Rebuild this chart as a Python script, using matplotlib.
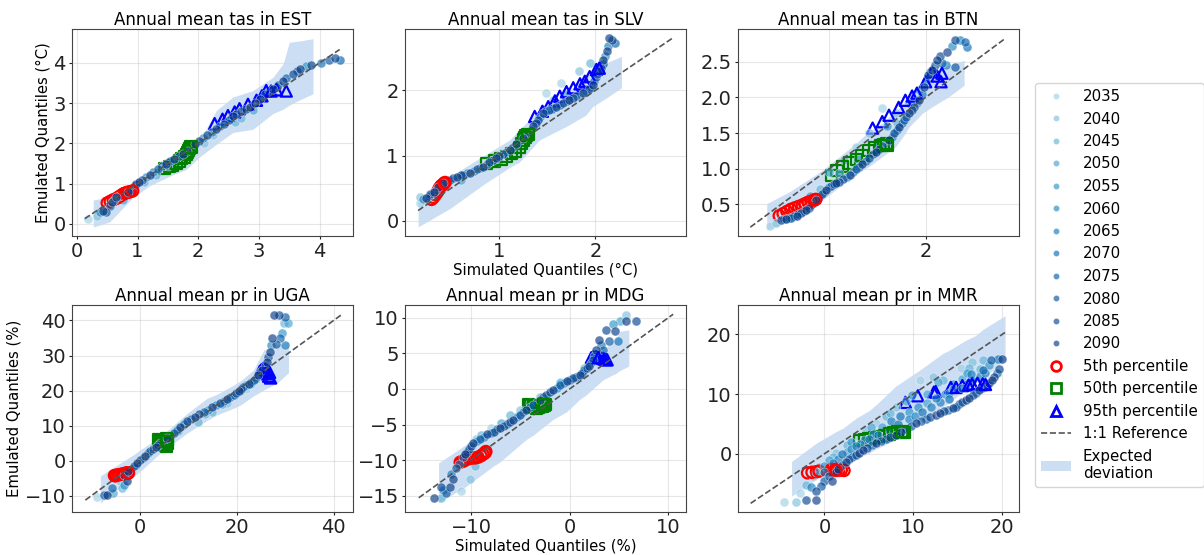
import matplotlib
matplotlib.use("Agg")
import matplotlib.pyplot as plt
from matplotlib.colors import LinearSegmentedColormap
from matplotlib.lines import Line2D
from matplotlib.patches import Patch

YEARS = [2035, 2040, 2045, 2050, 2055, 2060, 2065, 2070, 2075, 2080, 2085, 2090]

# ---------------- EST (tas) ----------------
est_x = [0.18, 0.33, 0.43, 0.48, 0.54, 0.58, 0.65, 0.76, 0.70, 0.84, 0.92, 0.98, 1.08, 1.20, 1.33,
         1.47, 1.60, 1.75, 1.88, 2.02, 2.15, 2.30, 2.42, 2.57, 2.70, 2.85, 3.01, 3.10, 3.23, 3.32,
         3.40, 3.56, 3.67, 3.78, 4.03, 4.16, 4.25, 4.33, 1.30, 2.10, 2.60, 2.90, 1.60,
         0.38, 0.62, 0.72, 0.80, 0.88, 0.95, 1.03, 1.14, 1.26, 1.40, 1.54, 1.68, 1.81, 1.95, 2.08,
         2.22, 2.36, 2.50, 2.63, 2.78, 2.93, 3.06, 3.17, 3.28, 3.45, 3.62, 3.86,
         1.10, 1.50, 1.90, 2.25, 2.70]
est_y = [0.12, 0.19, 0.32, 0.30, 0.44, 0.55, 0.67, 0.59, 0.70, 0.79, 0.90, 1.00, 1.10, 1.21, 1.36,
         1.50, 1.62, 1.74, 1.90, 2.07, 2.20, 2.36, 2.48, 2.69, 2.80, 2.90, 3.11, 3.22, 3.36, 3.45,
         3.56, 3.73, 3.85, 3.93, 3.99, 4.06, 4.12, 4.06, 1.22, 2.02, 2.52, 2.82, 1.53,
         0.30, 0.60, 0.72, 0.76, 0.85, 0.96, 1.05, 1.16, 1.28, 1.43, 1.56, 1.68, 1.82, 1.98, 2.14,
         2.28, 2.42, 2.58, 2.74, 2.86, 3.00, 3.16, 3.30, 3.40, 3.62, 3.80, 3.95,
         1.05, 1.44, 1.84, 2.20, 2.64]
est_yr = [0, 1, 11, 9, 8, 10, 11, 3, 7, 11, 9, 11, 10, 11, 9,
          11, 10, 11, 8, 11, 10, 11, 9, 11, 10, 11, 11, 9, 11, 8,
          11, 10, 11, 4, 7, 9, 10, 8, 2, 1, 2, 3, 1,
          5, 6, 7, 8, 9, 10, 11, 5, 6, 7, 8, 9, 10, 11, 5,
          6, 7, 8, 9, 10, 11, 5, 6, 7, 8, 9, 10,
          2, 3, 4, 1, 2]
est_p5_x = [0.50, 0.55, 0.60, 0.66, 0.70, 0.74, 0.77, 0.79, 0.82, 0.85, 0.88, 0.92]
est_p5_y = [0.52, 0.56, 0.60, 0.64, 0.68, 0.72, 0.75, 0.76, 0.78, 0.79, 0.80, 0.82]
est_p50_x = [1.45, 1.52, 1.58, 1.64, 1.69, 1.73, 1.77, 1.80, 1.82, 1.84, 1.86, 1.88]
est_p50_y = [1.37, 1.42, 1.46, 1.50, 1.56, 1.62, 1.66, 1.72, 1.78, 1.83, 1.88, 1.91]
est_p95_x = [2.27, 2.40, 2.49, 2.60, 2.68, 2.82, 2.96, 3.05, 3.12, 3.20, 3.29, 3.45]
est_p95_y = [2.49, 2.60, 2.69, 2.78, 2.86, 2.97, 3.07, 3.18, 3.31, 3.30, 3.33, 3.30]
est_band_x = [0.27, 0.29, 0.54, 0.92, 1.20, 1.58, 1.80, 2.02, 2.30, 2.57, 2.90, 3.23, 3.40, 3.50, 3.70, 3.89]
est_band_lo = [-0.07, -0.07, 0.05, 0.65, 0.95, 1.22, 1.35, 1.66, 1.98, 2.27, 2.35, 2.74, 2.85, 2.95, 3.10, 3.23]
est_band_hi = [0.60, 0.60, 0.67, 0.92, 1.25, 1.66, 1.79, 2.07, 2.82, 3.15, 3.31, 3.64, 3.98, 4.51, 4.55, 4.60]
est_ref = [0.13, 4.33]
est_lim = [(-0.08, 4.55), (-0.30, 4.84)]

# ---------------- SLV (tas) ----------------
slv_x = [0.18, 0.18, 0.24, 0.28, 0.32, 0.37, 0.42, 0.49, 0.56, 0.63, 0.70, 0.77, 0.83, 0.90, 0.97,
         1.04, 1.11, 1.18, 1.25, 1.30, 1.35, 1.40, 1.46, 1.52, 1.59, 1.66, 1.73, 1.80, 1.87, 1.93,
         1.97, 2.01, 2.04, 2.08, 2.08, 2.12, 2.14, 2.17, 2.20, 1.49, 1.56, 1.64, 1.83, 1.94, 1.70,
         1.00, 0.60, 1.20,
         0.21, 0.27, 0.35, 0.45, 0.52, 0.60, 0.67, 0.74, 0.80, 0.87, 0.94, 1.00, 1.07, 1.14, 1.21,
         1.28, 1.33, 1.38, 1.43, 1.49, 1.56, 1.63, 1.70, 1.77, 1.84, 1.90, 1.95, 1.99, 2.02, 2.06,
         2.10, 2.13]
slv_y = [0.28, 0.37, 0.35, 0.42, 0.45, 0.52, 0.58, 0.63, 0.68, 0.71, 0.74, 0.79, 0.83, 0.90, 0.96,
         1.02, 1.09, 1.18, 1.27, 1.36, 1.45, 1.55, 1.65, 1.70, 1.75, 1.80, 1.86, 1.91, 1.96, 2.02,
         2.09, 2.20, 2.29, 2.40, 2.47, 2.60, 2.80, 2.77, 2.73, 1.96, 1.86, 2.12, 2.29, 2.42, 1.95,
         0.92, 0.62, 1.10,
         0.33, 0.38, 0.48, 0.60, 0.66, 0.70, 0.73, 0.77, 0.81, 0.87, 0.93, 0.99, 1.05, 1.13, 1.22,
         1.31, 1.40, 1.50, 1.60, 1.68, 1.73, 1.78, 1.83, 1.89, 1.94, 1.99, 2.05, 2.14, 2.25, 2.35,
         2.52, 2.68]
slv_yr = [0, 1, 11, 9, 11, 10, 11, 9, 11, 10, 11, 9, 11, 10, 11,
          9, 11, 10, 11, 9, 11, 10, 11, 9, 11, 10, 11, 9, 11, 10,
          11, 9, 11, 10, 11, 11, 11, 10, 8, 0, 1, 0, 1, 2, 3,
          2, 3, 1,
          5, 6, 7, 8, 9, 10, 5, 6, 7, 8, 9, 10, 5, 6, 7,
          8, 9, 10, 5, 6, 7, 8, 9, 10, 5, 6, 7, 8, 9, 10,
          5, 6]
slv_p5_x = [0.30, 0.32, 0.34, 0.36, 0.37, 0.38, 0.39, 0.40, 0.41, 0.42, 0.43, 0.44]
slv_p5_y = [0.33, 0.36, 0.40, 0.44, 0.47, 0.50, 0.52, 0.54, 0.55, 0.56, 0.58, 0.59]
slv_p50_x = [0.87, 0.95, 1.02, 1.08, 1.13, 1.17, 1.21, 1.23, 1.25, 1.27, 1.28, 1.30]
slv_p50_y = [0.88, 0.92, 0.95, 0.99, 1.03, 1.07, 1.13, 1.19, 1.24, 1.28, 1.31, 1.33]
slv_p95_x = [1.37, 1.45, 1.51, 1.58, 1.63, 1.70, 1.77, 1.84, 1.89, 1.94, 2.01, 2.04]
slv_p95_y = [1.60, 1.68, 1.75, 1.84, 1.91, 1.98, 2.04, 2.10, 2.14, 2.21, 2.32, 2.34]
slv_band_x = [0.16, 0.49, 0.83, 1.11, 1.21, 1.42, 1.70, 1.90, 1.97, 2.11, 2.27]
slv_band_lo = [-0.09, 0.19, 0.55, 0.82, 0.90, 1.24, 1.45, 1.62, 1.75, 1.88, 2.04]
slv_band_hi = [0.30, 0.68, 0.99, 1.24, 1.40, 1.70, 1.96, 2.21, 2.28, 2.42, 2.52]
slv_ref = [0.16, 2.80]
slv_lim = [(0.024, 2.94), (-0.23, 2.94)]

# ---------------- BTN (tas) ----------------
btn_x = [0.38, 0.45, 0.50, 0.55, 0.60, 0.66, 0.71, 0.76, 0.81, 0.86, 0.92, 0.97, 1.02, 1.07, 1.14,
         1.21, 1.28, 1.34, 1.41, 1.48, 1.55, 1.62, 1.67, 1.72, 1.78, 1.83, 1.88, 1.93, 1.98, 2.02,
         2.07, 2.12, 2.17, 2.22, 2.31, 2.41, 2.43, 2.31, 2.21, 1.28, 1.41, 1.55, 1.69, 1.83, 1.93,
         1.15, 1.00, 0.80, 1.60,
         0.53, 0.58, 0.63, 0.68, 0.74, 0.79, 0.84, 0.89, 0.95, 1.00, 1.05, 1.10, 1.18, 1.25, 1.31,
         1.38, 1.45, 1.52, 1.59, 1.65, 1.70, 1.75, 1.80, 1.86, 1.91, 1.96, 2.00, 2.05, 2.10, 2.15,
         2.27, 2.36, 0.90, 1.10, 1.30, 1.50, 1.70, 1.85]
btn_y = [0.19, 0.24, 0.28, 0.30, 0.31, 0.34, 0.38, 0.42, 0.49, 0.56, 0.64, 0.70, 0.76, 0.80, 0.85,
         0.91, 0.99, 1.07, 1.15, 1.24, 1.32, 1.40, 1.50, 1.59, 1.69, 1.78, 1.87, 1.96, 2.15, 2.31,
         2.38, 2.52, 2.48, 2.64, 2.80, 2.78, 2.71, 2.43, 2.45, 1.31, 1.50, 1.85, 1.78, 1.92, 2.10,
         1.12, 0.95, 0.62, 1.60,
         0.29, 0.31, 0.33, 0.36, 0.40, 0.45, 0.52, 0.60, 0.67, 0.74, 0.78, 0.82, 0.88, 0.95, 1.03,
         1.11, 1.20, 1.28, 1.36, 1.45, 1.55, 1.64, 1.73, 1.83, 1.92, 2.05, 2.23, 2.35, 2.45, 2.58,
         2.72, 2.80, 0.72, 0.94, 1.14, 1.37, 1.64, 1.89]
btn_yr = [0, 1, 10, 11, 9, 11, 10, 11, 9, 11, 10, 11, 9, 11, 10,
          11, 9, 11, 10, 11, 9, 11, 10, 11, 9, 11, 10, 11, 11, 10,
          11, 11, 8, 11, 10, 8, 7, 9, 6, 0, 1, 0, 1, 2, 3,
          2, 3, 4, 4,
          5, 6, 7, 8, 9, 10, 5, 6, 7, 8, 9, 10, 5, 6, 7,
          8, 9, 10, 5, 6, 7, 8, 9, 10, 5, 6, 7, 8, 9, 10,
          5, 6, 2, 3, 4, 5, 2, 3]
btn_p5_x = [0.48, 0.52, 0.56, 0.60, 0.64, 0.68, 0.72, 0.75, 0.78, 0.81, 0.84, 0.86]
btn_p5_y = [0.34, 0.37, 0.40, 0.43, 0.45, 0.47, 0.49, 0.51, 0.53, 0.54, 0.56, 0.57]
btn_p50_x = [1.02, 1.08, 1.14, 1.21, 1.28, 1.34, 1.41, 1.47, 1.53, 1.56, 1.59, 1.60]
btn_p50_y = [0.91, 0.97, 1.03, 1.08, 1.13, 1.19, 1.26, 1.30, 1.33, 1.34, 1.35, 1.33]
btn_p95_x = [1.45, 1.55, 1.62, 1.72, 1.79, 1.86, 1.91, 2.00, 2.07, 2.12, 2.16, 2.17]
btn_p95_y = [1.57, 1.66, 1.75, 1.86, 1.96, 2.02, 2.06, 2.22, 2.36, 2.30, 2.22, 2.34]
btn_band_x = [0.35, 0.59, 0.93, 1.28, 1.41, 1.55, 1.62, 1.69, 1.79, 1.83, 1.97, 2.07, 2.24, 2.40]
btn_band_lo = [0.14, 0.26, 0.56, 0.93, 1.03, 1.17, 1.24, 1.31, 1.50, 1.59, 1.78, 1.87, 2.01, 2.17]
btn_band_hi = [0.51, 0.68, 0.98, 1.36, 1.52, 1.64, 1.73, 1.80, 1.96, 2.02, 2.24, 2.32, 2.45, 2.52]
btn_ref = [0.18, 2.82]
btn_lim = [(0.052, 2.97), (0.056, 2.96)]

# ---------------- UGA (pr) ----------------
uga_x = [-8.8, -7.4, -6.7, -5.4, -5.7, -3.6, -4.0, -2.6, -3.3, -3.3, -2.3, -1.2, -0.5, 0.1, 1.2,
         2.2, 3.3, 4.3, 5.6, 7.0, 8.4, 9.8, 11.5, 13.2, 14.9, 16.6, 18.0, 19.4, 20.4, 21.4,
         22.5, 23.5, 24.4, 25.2, 26.3, 26.8, 27.3, 29.0, 28.2, 30.0, 29.3, 27.8, 28.7, 30.0, 30.5,
         29.7, 12.0, 18.0, 22.0, 8.0, 15.0,
         -1.8, -0.8, 0.6, 1.7, 2.7, 3.8, 4.9, 6.3, 7.7, 9.1, 10.6, 12.3, 14.0, 15.7, 17.3,
         18.7, 19.9, 20.9, 21.9, 23.0, 24.0, 24.8, 25.8, 26.5, 27.0, 9.0, 13.5, 17.0, 21.0, 23.0]
uga_y = [-10.4, -9.7, -9.7, -9.2, -7.8, -7.8, -5.9, -5.9, -6.9, -4.0, -3.0, -1.6, -0.6, 0.3, 1.5,
         2.7, 3.9, 5.0, 6.4, 7.9, 9.6, 11.2, 12.6, 14.0, 15.2, 16.4, 17.6, 18.8, 20.0, 21.1,
         22.0, 23.0, 24.5, 25.9, 28.2, 31.1, 34.9, 34.9, 33.2, 33.0, 36.3, 41.5, 41.5, 41.0, 39.3,
         39.3, 11.0, 16.5, 20.5, 8.5, 14.0,
         -2.3, -1.1, 0.9, 2.1, 3.3, 4.4, 5.7, 7.2, 8.8, 10.4, 11.9, 13.3, 14.6, 15.8, 17.0,
         18.2, 19.4, 20.6, 21.5, 22.5, 23.7, 25.2, 27.0, 29.7, 33.0, 9.8, 13.3, 16.2, 20.0, 21.8]
uga_yr = [0, 9, 11, 3, 8, 2, 1, 11, 4, 10, 11, 9, 11, 10, 11,
          9, 11, 10, 11, 9, 11, 10, 11, 9, 11, 10, 11, 9, 11, 10,
          11, 9, 11, 10, 11, 11, 11, 8, 9, 6, 4, 11, 10, 9, 3,
          2, 2, 1, 0, 3, 2,
          5, 6, 7, 8, 9, 10, 5, 6, 7, 8, 9, 10, 5, 6, 7,
          8, 9, 10, 5, 6, 7, 8, 9, 10, 5, 1, 2, 3, 1, 2]
uga_p5_x = [-5.2, -5.0, -4.8, -4.4, -4.0, -3.6, -3.3, -3.0, -2.8, -2.6, -2.4, -2.3]
uga_p5_y = [-4.2, -4.3, -4.1, -4.0, -3.9, -3.8, -3.7, -3.6, -3.5, -3.5, -3.4, -3.5]
uga_p50_x = [4.0, 4.3, 4.6, 4.9, 5.2, 5.4, 5.6, 5.8, 5.3, 5.5, 5.7, 5.6]
uga_p50_y = [6.0, 5.8, 5.5, 5.2, 4.8, 4.4, 4.1, 5.0, 5.8, 6.2, 5.9, 5.5]
uga_p95_x = [24.8, 25.1, 25.4, 25.7, 26.0, 26.3, 26.6, 27.0, 25.5, 25.9, 26.3, 26.8]
uga_p95_y = [25.5, 25.9, 26.2, 25.8, 25.4, 24.8, 24.1, 23.6, 26.3, 26.0, 25.6, 25.2]
uga_band_x = [-8.1, -1.2, 0.1, 4.3, 9.8, 13.9, 16.0, 19.4, 20.8, 23.5, 25.6, 28.3, 30.7]
uga_band_lo = [-12.0, -4.5, -3.0, 2.2, 7.9, 11.5, 13.1, 15.0, 15.9, 18.5, 20.2, 22.1, 25.1]
uga_band_hi = [-4.3, 1.8, 3.1, 6.9, 13.5, 17.8, 19.0, 21.6, 22.8, 25.9, 31.6, 33.0, 34.0]
uga_ref = [-11.2, 41.5]
uga_lim = [(-13.95, 44.0), (-14.6, 44.4)]

# ---------------- MDG (pr) ----------------
mdg_x = [-13.8, -13.0, -12.5, -13.0, -12.1, -11.0, -11.8, -11.5, -10.1, -9.6, -10.6, -10.2, -9.8, -9.1, -8.4,
         -7.7, -7.1, -6.4, -5.7, -5.0, -4.4, -3.7, -3.0, -2.4, -1.7, -1.0, -0.3, 0.3, 1.0, 1.5,
         2.0, 2.4, 2.7, 3.4, 3.0, 4.0, 3.7, 4.6, 4.4, 5.1, 5.7, 6.7, 5.7, 4.9, 3.5,
         -9.5, -8.0, -6.0, -4.0, -1.0, 1.5,
         -12.8, -12.0, -11.2, -10.8, -10.4, -10.0, -9.4, -8.7, -8.0, -7.4, -6.7, -6.0, -5.3, -4.7, -4.0,
         -3.3, -2.7, -2.0, -1.3, -0.6, 0.0, 0.6, 1.3, 1.8, 2.2, 2.5, 3.2,
         -9.0, -7.0, -5.0, -3.0, -1.0]
mdg_y = [-15.4, -15.3, -14.6, -13.8, -13.8, -14.4, -12.6, -11.1, -12.7, -10.9, -9.2, -8.4, -7.6, -7.0, -6.4,
         -6.0, -5.5, -4.9, -4.3, -3.6, -2.9, -2.2, -1.5, -0.8, -0.1, 0.5, 1.1, 1.5, 2.0, 2.6,
         3.2, 4.0, 5.5, 5.5, 6.9, 6.7, 8.3, 8.1, 9.1, 9.5, 9.5, 9.5, 10.4, 6.7, 4.1,
         -7.0, -5.5, -3.6, -2.0, 1.0, 2.9,
         -14.2, -12.0, -10.5, -9.6, -8.8, -8.0, -7.3, -6.7, -6.2, -5.7, -5.2, -4.6, -3.9, -3.2, -2.5,
         -1.8, -1.1, -0.4, 0.2, 0.8, 1.3, 1.7, 2.3, 2.9, 3.6, 4.7, 6.2,
         -6.5, -4.8, -3.0, -1.1, 0.8]
mdg_yr = [11, 2, 9, 10, 11, 0, 11, 9, 1, 2, 11, 10, 11, 9, 11,
          10, 11, 9, 11, 10, 11, 9, 11, 10, 11, 9, 11, 10, 11, 9,
          11, 10, 11, 8, 11, 9, 10, 11, 4, 3, 11, 10, 1, 7, 5,
          1, 0, 2, 3, 1, 2,
          5, 6, 7, 8, 9, 10, 5, 6, 7, 8, 9, 10, 5, 6, 7,
          8, 9, 10, 5, 6, 7, 8, 9, 10, 5, 6, 7,
          2, 3, 1, 2, 3]
mdg_p5_x = [-11.1, -10.9, -10.7, -10.5, -10.2, -9.9, -9.6, -9.3, -9.0, -8.8, -8.6, -8.5]
mdg_p5_y = [-10.3, -10.2, -10.1, -9.9, -9.8, -9.7, -9.7, -9.6, -9.4, -9.2, -9.0, -8.8]
mdg_p50_x = [-4.2, -4.0, -3.8, -3.7, -3.5, -3.4, -3.2, -3.0, -2.8, -2.7, -2.6, -2.5]
mdg_p50_y = [-2.2, -2.4, -2.5, -2.4, -2.6, -2.7, -2.6, -2.5, -2.4, -2.3, -2.3, -2.2]
mdg_p95_x = [2.2, 2.4, 2.6, 2.7, 2.9, 3.0, 3.2, 3.4, 3.5, 3.7, 3.8, 2.9]
mdg_p95_y = [4.4, 4.5, 4.5, 4.5, 4.4, 4.4, 4.3, 4.3, 4.2, 4.1, 4.1, 4.4]
mdg_band_x = [-13.3, -10.5, -7.8, -7.1, -4.4, -3.7, -1.7, -0.3, 1.0, 1.7, 3.4, 4.4, 4.7, 5.1, 6.0]
mdg_band_lo = [-16.0, -13.7, -10.9, -10.3, -7.1, -6.5, -4.3, -3.2, -1.5, -0.8, 1.3, 2.0, 2.2, 2.6, 3.2]
mdg_band_hi = [-10.4, -7.8, -5.5, -4.8, -2.2, -1.5, 0.2, 1.8, 2.6, 3.7, 5.5, 6.7, 7.0, 8.1, 8.3]
mdg_ref = [-15.3, 10.5]
mdg_lim = [(-16.7, 11.8), (-17.3, 11.8)]

# ---------------- MMR (pr) ----------------
mmr_x = [-2.1, -0.9, -0.9, 0.0, 0.9, 1.3, 1.8, 2.4, 3.1, 3.9, 4.8, 5.8, 6.9, 8.0, 9.2,
         10.3, 11.4, 12.5, 13.4, 14.4, 15.1, 15.9, 16.7, 17.4, 18.0, 18.5, 19.1, 19.6, 20.0, 17.8,
         18.7, -1.5, 1.0, 3.0, 5.0, 7.3, 9.5, 11.0, 13.0, 14.0, 15.5, 16.6, 17.5, -4.5, -3.2,
         -2.8, -2.1, -1.3, -0.6, 0.5, 1.3, 2.5, 3.6, 4.7, 5.8, 6.9, 8.0, 9.2, 10.7, 12.2,
         13.3, 15.3, 16.6, 17.8, 11.5, 14.5, 16.0,
         -0.4, 0.5, 1.5, 2.0, 2.8, 3.5, 4.3, 5.3, 6.3, 7.4, 8.6, 9.7, 10.8, 11.9, 13.0,
         13.9, 14.8, 15.5, 16.3, 17.0, 17.7, 18.3, 18.8, 19.4,
         0.0, 2.0, 4.0, 6.0, 8.3, 10.2, 12.0, 14.0, 16.0, 18.0,
         -1.0, 1.0, 3.0, 5.2, 7.4, 9.8, 12.8, 16.2,
         0.0, 1.5, 2.5, 3.5, 4.5, 5.5, 6.5, 7.5, 8.5, 9.5, 10.5, 11.5, 12.5, 13.5, 14.5,
         15.5, 16.5, 17.5, 18.5, 19.5]
mmr_y = [-7.8, -7.8, -6.3, -4.6, -4.6, -3.0, -2.2, -1.3, -0.6, 0.1, 1.0, 1.8, 2.5, 3.2, 4.2,
         5.1, 5.8, 6.5, 7.1, 7.6, 8.3, 9.0, 9.8, 10.7, 11.2, 11.8, 12.9, 14.2, 15.8, 14.0,
         15.7, -5.5, -1.5, 0.8, 2.4, 4.0, 5.8, 7.0, 8.6, 10.2, 11.0, 12.4, 13.0, -8.1, -8.1,
         -6.6, -5.2, -3.8, -2.1, -1.0, 0.1, 1.5, 2.9, 4.0, 5.1, 6.4, 7.9, 8.9, 12.4, 12.9,
         12.4, 14.3, 15.4, 15.7, 10.0, 11.7, 13.5,
         -5.4, -3.8, -2.6, -1.8, -0.9, -0.2, 0.6, 1.4, 2.1, 2.8, 3.7, 4.6, 5.4, 6.1, 6.8,
         7.3, 7.9, 8.6, 9.4, 10.2, 11.0, 11.5, 12.3, 13.5,
         -3.0, 0.0, 1.7, 3.2, 4.9, 6.4, 7.8, 9.2, 11.6, 13.5,
         -3.0, -0.5, 2.0, 4.4, 6.9, 9.8, 12.0, 14.4,
         -2.0, -0.8, 0.3, 1.3, 2.3, 3.3, 4.5, 5.5, 6.3, 7.0, 7.8, 8.5, 9.3, 10.0, 10.8,
         12.5, 13.3, 14.2, 14.8, 15.8]
mmr_yr = [10, 11, 10, 9, 11, 11, 10, 11, 9, 11, 10, 11, 9, 11, 10,
          11, 9, 11, 10, 11, 9, 11, 10, 11, 9, 11, 11, 10, 11, 8,
          9, 6, 6, 5, 7, 6, 5, 7, 6, 5, 7, 6, 5, 0, 1,
          0, 2, 1, 0, 3, 1, 2, 0, 1, 0, 2, 1, 3, 0, 1,
          2, 0, 1, 2, 3, 4, 4,
          9, 10, 11, 8, 9, 10, 11, 8, 9, 10, 11, 8, 9, 10, 11,
          8, 9, 10, 11, 8, 9, 10, 11, 8,
          6, 7, 5, 6, 7, 5, 6, 7, 5, 6,
          3, 2, 4, 3, 2, 4, 3, 2,
          4, 5, 3, 6, 4, 5, 3, 6, 7, 4, 5, 3, 6, 4, 5,
          3, 6, 2, 4, 7]
mmr_p5_x = [-1.9, -1.4, -0.9, -0.6, 0.8, 1.0, 1.2, 1.4, 1.6, 1.9, 2.2, 1.3]
mmr_p5_y = [-3.2, -3.1, -3.0, -2.9, -2.6, -2.7, -2.7, -2.6, -2.8, -2.7, -2.8, -2.8]
mmr_p50_x = [3.9, 4.5, 5.0, 5.6, 6.2, 6.8, 7.3, 7.8, 8.2, 8.6, 9.0, 8.8]
mmr_p50_y = [2.2, 2.4, 2.5, 2.7, 2.9, 3.1, 3.3, 3.5, 3.7, 3.6, 3.5, 3.7]
mmr_p95_x = [9.1, 10.5, 12.3, 12.5, 14.2, 14.8, 15.5, 16.2, 16.6, 17.2, 17.8, 18.1]
mmr_p95_y = [8.6, 9.7, 10.3, 10.4, 11.1, 11.1, 11.4, 11.5, 11.7, 11.8, 11.7, 11.6]
mmr_band_x = [-3.7, -0.9, 1.3, 2.1, 3.6, 5.0, 5.8, 8.0, 10.7, 11.0, 13.3, 14.0, 15.9, 17.0, 17.8, 20.3]
mmr_band_lo = [-7.1, -4.3, -2.7, -2.1, -0.8, 0.1, 0.8, 2.3, 5.0, 5.7, 7.9, 8.5, 10.8, 11.8, 12.6, 15.7]
mmr_band_hi = [-1.3, 1.8, 3.7, 4.3, 6.0, 7.2, 8.2, 11.3, 14.0, 14.3, 16.8, 17.3, 19.0, 19.8, 20.8, 23.1]
mmr_ref = [-8.3, 20.3]
mmr_lim = [(-9.72, 21.87), (-9.75, 24.9)]

PANELS = [
    ("Annual mean tas in EST", est_x, est_y, est_yr, est_p5_x, est_p5_y, est_p50_x, est_p50_y,
     est_p95_x, est_p95_y, est_band_x, est_band_lo, est_band_hi, est_ref, est_lim),
    ("Annual mean tas in SLV", slv_x, slv_y, slv_yr, slv_p5_x, slv_p5_y, slv_p50_x, slv_p50_y,
     slv_p95_x, slv_p95_y, slv_band_x, slv_band_lo, slv_band_hi, slv_ref, slv_lim),
    ("Annual mean tas in BTN", btn_x, btn_y, btn_yr, btn_p5_x, btn_p5_y, btn_p50_x, btn_p50_y,
     btn_p95_x, btn_p95_y, btn_band_x, btn_band_lo, btn_band_hi, btn_ref, btn_lim),
    ("Annual mean pr in UGA", uga_x, uga_y, uga_yr, uga_p5_x, uga_p5_y, uga_p50_x, uga_p50_y,
     uga_p95_x, uga_p95_y, uga_band_x, uga_band_lo, uga_band_hi, uga_ref, uga_lim),
    ("Annual mean pr in MDG", mdg_x, mdg_y, mdg_yr, mdg_p5_x, mdg_p5_y, mdg_p50_x, mdg_p50_y,
     mdg_p95_x, mdg_p95_y, mdg_band_x, mdg_band_lo, mdg_band_hi, mdg_ref, mdg_lim),
    ("Annual mean pr in MMR", mmr_x, mmr_y, mmr_yr, mmr_p5_x, mmr_p5_y, mmr_p50_x, mmr_p50_y,
     mmr_p95_x, mmr_p95_y, mmr_band_x, mmr_band_lo, mmr_band_hi, mmr_ref, mmr_lim),
]

XTICKS = [[0, 1, 2, 3, 4], [1, 2], [1, 2], [0, 20, 40], [-10, 0, 10], [0, 10, 20]]
YTICKS = [[0, 1, 2, 3, 4], [0, 1, 2], [0.5, 1.0, 1.5, 2.0, 2.5],
          [-10, 0, 10, 20, 30, 40], [-15, -10, -5, 0, 5, 10], [0, 10, 20]]

BAND_COLOR = "#c4d9f1"
PT_ALPHA = 0.65
cmap = LinearSegmentedColormap.from_list("yrs", ["#9ed0e4", "#2f99cb", "#0769b4", "#073984"])
year_colors = [cmap(i / (len(YEARS) - 1)) for i in range(len(YEARS))]

fig = plt.figure(figsize=(12.04, 5.55), dpi=100)
W, H = 1204.0, 555.0
lefts = [72, 405, 738]
rows = [(29, 236), (305, 512)]

for k, panel in enumerate(PANELS):
    (title, px, py, pyr, p5x, p5y, p50x, p50y, p95x, p95y,
     bx, blo, bhi, ref, lim) = panel
    r, c = divmod(k, 3)
    top, bot = rows[r]
    ax = fig.add_axes([lefts[c] / W, 1 - bot / H, 281 / W, (bot - top) / H])

    ax.fill_between(bx, blo, bhi, color=BAND_COLOR, alpha=0.85, linewidth=0, zorder=1)

    # year by year: quantiles first, then that year's percentile markers
    for yi in range(len(YEARS)):
        xs = [x for x, yy in zip(px, pyr) if yy == yi]
        ys = [y for y, yy in zip(py, pyr) if yy == yi]
        ax.scatter(xs, ys, s=42, color=year_colors[yi], alpha=PT_ALPHA,
                   edgecolors="white", linewidths=0.4, zorder=2)
        ax.scatter([p5x[yi]], [p5y[yi]], s=65, marker="o", facecolors="none",
                   edgecolors="red", linewidths=1.6, zorder=2)
        ax.scatter([p50x[yi]], [p50y[yi]], s=65, marker="s", facecolors="none",
                   edgecolors="green", linewidths=1.6, zorder=2)
        ax.scatter([p95x[yi]], [p95y[yi]], s=65, marker="^", facecolors="none",
                   edgecolors="blue", linewidths=1.6, zorder=2)

    ax.plot(ref, ref, linestyle="--", color="#555555", linewidth=1.2, zorder=3)

    ax.set_xlim(*lim[0])
    ax.set_ylim(*lim[1])
    ax.set_xticks(XTICKS[k])
    ax.set_yticks(YTICKS[k])
    ax.tick_params(labelsize=14, colors="#222222", length=2.5, pad=2)
    ax.grid(True, alpha=0.3, linewidth=0.8)
    ax.set_axisbelow(True)
    for sp in ax.spines.values():
        sp.set_color("#444444")
    ax.set_title(title, fontsize=12, pad=3)
    if k == 0:
        ax.set_ylabel("Emulated Quantiles (°C)", fontsize=10.7, labelpad=2)
    if k == 3:
        ax.set_ylabel("Emulated Quantiles (%)", fontsize=10.7, labelpad=2)
    if k == 1:
        ax.set_xlabel("Simulated Quantiles (°C)", fontsize=10.7, labelpad=1)
    if k == 4:
        ax.set_xlabel("Simulated Quantiles (%)", fontsize=10.7, labelpad=1)

handles = []
labels = []
for yi, yr in enumerate(YEARS):
    handles.append(Line2D([], [], linestyle="none", marker="o", markersize=4.5,
                          color=year_colors[yi], alpha=PT_ALPHA, markeredgecolor="white",
                          markeredgewidth=0.4))
    labels.append(str(yr))
handles.append(Line2D([], [], linestyle="none", marker="o", markersize=7,
                      markerfacecolor="none", markeredgecolor="red", markeredgewidth=2))
labels.append("5th percentile")
handles.append(Line2D([], [], linestyle="none", marker="s", markersize=7,
                      markerfacecolor="none", markeredgecolor="green", markeredgewidth=2))
labels.append("50th percentile")
handles.append(Line2D([], [], linestyle="none", marker="^", markersize=7,
                      markerfacecolor="none", markeredgecolor="blue", markeredgewidth=2))
labels.append("95th percentile")
handles.append(Line2D([], [], linestyle="--", color="#555555", linewidth=1.2))
labels.append("1:1 Reference")
handles.append(Patch(facecolor=BAND_COLOR, alpha=0.85, edgecolor="none"))
labels.append("Expected\ndeviation")

fig.legend(handles, labels, loc="upper left", bbox_to_anchor=(1035 / W, 1 - 83 / H),
           fontsize=10.8, frameon=True, borderaxespad=0, labelspacing=0.5)

fig.savefig("out.png", dpi=100)
